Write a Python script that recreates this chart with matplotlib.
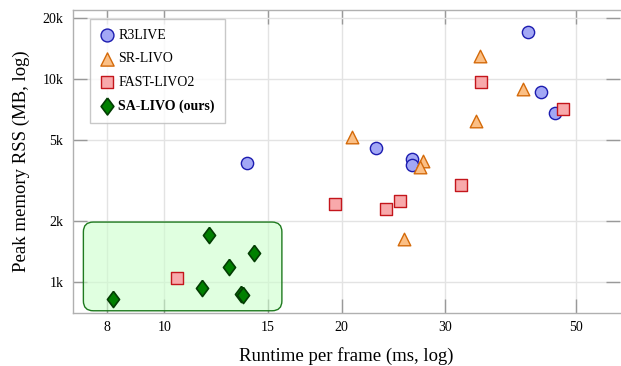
import numpy as np
import matplotlib.pyplot as plt
from matplotlib.patches import FancyBboxPatch
from matplotlib.ticker import FixedLocator, NullLocator

plt.rcParams['font.family'] = ['Liberation Serif', 'DejaVu Serif']
plt.rcParams['mathtext.fontset'] = 'stix'

# 数据：每帧运行时间 (ms) 与峰值内存 (MB)
r3live_rt = [13.8, 41.5, 43.6, 46.0, 22.9, 26.3, 26.3]
r3live_mem = [3830, 16900, 8600, 6810, 4560, 4030, 3750]

srlivo_rt = [34.3, 40.7, 33.8, 20.8, 27.5, 27.2, 25.5]
srlivo_mem = [13000, 8870, 6200, 5180, 3940, 3660, 1630]

fastlivo2_rt = [34.5, 47.6, 31.9, 19.5, 23.8, 25.1, 10.5]
fastlivo2_mem = [9600, 7080, 3000, 2420, 2290, 2490, 1050]

salivo_rt = [8.2, 11.9, 14.2, 12.9, 11.6, 13.5, 13.6]
salivo_mem = [823, 1710, 1390, 1180, 929, 870, 860]

x_ticks = [8, 10, 15, 20, 30, 50]
x_ticklabels = ['8', '10', '15', '20', '30', '50']
y_ticks = [1000, 2000, 5000, 10000, 20000]
y_ticklabels = ['1k', '2k', '5k', '10k', '20k']

W, H = 621, 366
fig = plt.figure(figsize=(W / 100, H / 100), dpi=100)
ax = fig.add_axes([73 / W, 53 / H, 547 / W, 303.5 / H])
ax.set_xscale('log')
ax.set_yscale('log')
ax.set_xlim(7.0, 59.4)
ax.set_ylim(703, 21900)

# 高亮区域（圆角框）
fig.canvas.draw()
to_ax = ax.transData + ax.transAxes.inverted()
(bx0, by0) = to_ax.transform((7.29, 721))
(bx1, by1) = to_ax.transform((15.84, 1970))
aspect = 547 / 303.5
box = FancyBboxPatch((bx0, by0), bx1 - bx0, by1 - by0,
                     boxstyle='round,pad=0,rounding_size=0.018',
                     mutation_aspect=aspect,
                     transform=ax.transAxes, facecolor='#ccffcc', alpha=0.6,
                     edgecolor='none', zorder=1)
ax.add_patch(box)
box_edge = FancyBboxPatch((bx0, by0), bx1 - bx0, by1 - by0,
                          boxstyle='round,pad=0,rounding_size=0.018',
                          mutation_aspect=aspect,
                          transform=ax.transAxes, facecolor='none',
                          edgecolor='#1f7a1f', linewidth=1.0, zorder=1.5)
ax.add_patch(box_edge)

diamond = [(0, 1), (0.75, 0), (0, -1), (-0.75, 0), (0, 1)]

ax.scatter(r3live_rt, r3live_mem, s=78, marker='o', facecolor='#a3a8f5',
           edgecolor='#1c1cb0', linewidth=1.0, label='R3LIVE', zorder=3)
ax.scatter(srlivo_rt, srlivo_mem, s=82, marker='^', facecolor='#fbbf85',
           edgecolor='#d46a0a', linewidth=1.0, label='SR-LIVO', zorder=3)
ax.scatter(fastlivo2_rt, fastlivo2_mem, s=65, marker='s', facecolor='#f8a9ab',
           edgecolor='#c4161c', linewidth=1.0, label='FAST-LIVO2', zorder=3)
ax.scatter(salivo_rt, salivo_mem, s=135, marker=diamond, facecolor='#008000',
           edgecolor='#033d03', linewidth=1.2, label='SA-LIVO (ours)', zorder=4)

ax.xaxis.set_major_locator(FixedLocator(x_ticks))
ax.xaxis.set_minor_locator(NullLocator())
ax.set_xticklabels(x_ticklabels)
ax.yaxis.set_major_locator(FixedLocator(y_ticks))
ax.yaxis.set_minor_locator(NullLocator())
ax.set_yticklabels(y_ticklabels)

ax.tick_params(which='both', direction='in', length=10, width=1.0,
               color='#999999', top=True, right=True, labelsize=10)
ax.tick_params(axis='x', pad=6)
ax.tick_params(axis='y', pad=7)
ax.grid(True, color='#e3e3e3', linewidth=1.0, zorder=0)
ax.set_axisbelow(True)
for sp in ax.spines.values():
    sp.set_color('#b0b0b0')
    sp.set_linewidth(1.0)
ax.spines['right'].set_visible(False)

ax.set_xlabel('Runtime per frame (ms, log)', fontsize=13.5, labelpad=9)
ax.set_ylabel('Peak memory RSS (MB, log)', fontsize=13.5, labelpad=9)

leg = ax.legend(loc='upper left', bbox_to_anchor=(0.031, 0.97), fontsize=10,
                frameon=True, fancybox=False, edgecolor='#bbbbbb',
                borderpad=0.75, labelspacing=0.75, handletextpad=0.3,
                handlelength=1.0, borderaxespad=0, markerscale=1.05)
leg.get_frame().set_linewidth(1.0)
leg.texts[3].set_fontweight('bold')

fig.savefig('out.png', dpi=100)
